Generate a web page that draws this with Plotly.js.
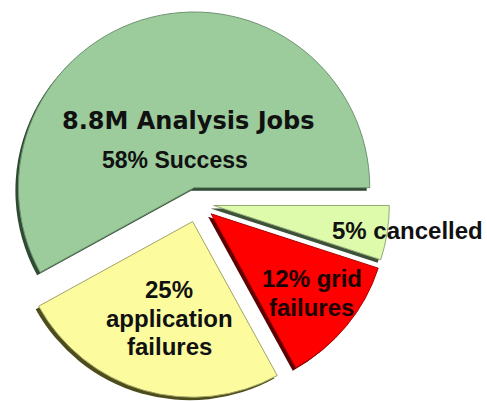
<!DOCTYPE html>
<html>
<head>
<meta charset="utf-8">
<script src="https://cdn.plot.ly/plotly-3.0.1.min.js"></script>
<style>
  html, body { margin: 0; padding: 0; background: #ffffff; overflow: hidden; }
  #chart { width: 487px; height: 401px; }
</style>
</head>
<body>
<div id="chart"></div>
<script>
// ---- data ----
const totalJobs = '8.8M';
const categories = ['Success', 'application failures', 'grid failures', 'cancelled'];
const percents = [58, 25, 12, 5];
const pulls = [0.09, 0.11, 0.097, 0.09];

const sliceColors  = ['#9ccb9c', '#fcfc9e', '#fe0000', '#ddfbab'];
const lineColors   = ['#6f9470', '#a3a366', '#b00000', '#93a877'];
const shadowColors = ['#2f4a32', '#4d4d1c', '#5c0000', '#3e5139'];

// ---- geometry (pixels) ----
const W = 487, H = 401;
const box = 390;             // pie box side
const cx = 198, cy = 203;    // main pie box centre
const sdx = -3, sdy = 3;     // shadow offset

// first slice ends at 3 o'clock and runs counterclockwise from there
const total = percents.reduce((a, b) => a + b, 0);
const rotation = 90 - percents[0] / total * 360;

function domainFor(x0, y0) {
  return {
    x: [(x0 - box / 2) / W, (x0 + box / 2) / W],
    y: [(H - (y0 + box / 2)) / H, (H - (y0 - box / 2)) / H]
  };
}

const common = {
  type: 'pie',
  labels: categories,
  values: percents,
  sort: false,
  direction: 'counterclockwise',
  rotation: rotation,
  pull: pulls,
  textinfo: 'none',
  hoverinfo: 'skip',
  showlegend: false
};

const shadow = Object.assign({}, common, {
  domain: domainFor(cx + sdx, cy + sdy),
  marker: { colors: shadowColors, line: { width: 0 } }
});

const main = Object.assign({}, common, {
  domain: domainFor(cx, cy),
  marker: { colors: sliceColors, line: { color: lineColors, width: 1 } }
});

const bold = 'Liberation Sans, Arial, sans-serif';
function ann(text, x, y, size, family, color) {
  return {
    text: '<b>' + text + '</b>',
    x: x / W, y: 1 - y / H, xref: 'paper', yref: 'paper',
    xanchor: 'center', yanchor: 'middle', showarrow: false,
    font: { family: family || bold, size: size, color: color || '#111111' }
  };
}

const annotations = [
  ann(totalJobs + ' Analysis Jobs', 188, 121, 24, 'DejaVu Sans, sans-serif'),
  ann(percents[0] + '% ' + categories[0], 175, 160, 23),
  ann(percents[1] + '%', 169, 289, 24),
  ann('application', 169, 318, 24),
  ann('failures', 169, 346, 24),
  ann(percents[2] + '% grid', 312, 278, 24, null, '#1a0000'),
  ann('failures', 311, 307, 24, null, '#1a0000'),
  ann(percents[3] + '% ' + categories[3], 407, 230, 24)
];

const layout = {
  width: W, height: H,
  margin: { l: 0, r: 0, t: 0, b: 0 },
  paper_bgcolor: '#ffffff',
  plot_bgcolor: '#ffffff',
  annotations: annotations
};

Plotly.newPlot('chart', [shadow, main], layout, { displayModeBar: false, staticPlot: true });
</script>
</body>
</html>
